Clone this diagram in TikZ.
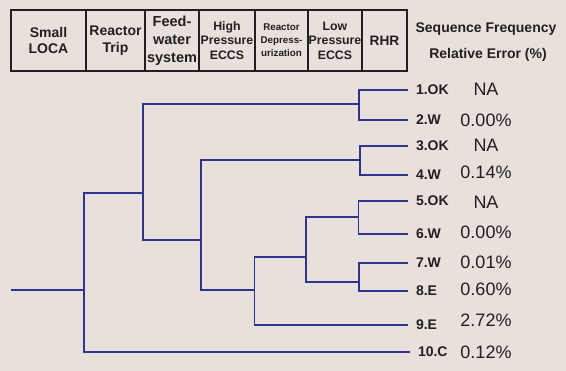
\documentclass[tikz,border=0pt]{standalone}
\usepackage{fontspec}
\setmainfont{Liberation Sans}
\usetikzlibrary{positioning}
\definecolor{bgbeige}{RGB}{232,225,219}
\definecolor{treeblue}{RGB}{48,52,140}
\definecolor{inkgrey}{RGB}{35,31,32}
\tikzstyle{hbox} = [rectangle, draw=inkgrey, line width=1.6pt, minimum height=61pt, inner sep=0pt, outer sep=0pt, align=center, text=inkgrey]
\tikzstyle{seqlabel} = [anchor=west, inner sep=0pt, outer xsep=8pt, text=inkgrey, font=\fontsize{14}{16}\selectfont\bfseries]
\tikzstyle{errval} = [inner sep=0pt, text=inkgrey, font=\fontsize{18}{20}\selectfont]
\tikzstyle{coltitle} = [inner sep=0pt, text=inkgrey, font=\fontsize{14}{16}\selectfont\bfseries]
\tikzstyle{branch} = [draw=treeblue, line width=1.2pt]

\begin{document}
\begin{tikzpicture}[x=1pt, y=-1pt]
      \fill[bgbeige] (0,0) rectangle (566,371);
      \useasboundingbox (0,0) rectangle (566,371);

      % event headings
      \node (loca) [hbox, minimum width=75pt, anchor=north west, font=\fontsize{14}{16.7}\selectfont\bfseries] at (11,10) {Small\\LOCA};
      \node (trip) [hbox, minimum width=59pt, right=0pt of loca, font=\fontsize{14}{16.5}\selectfont\bfseries] {Reactor\\Trip};
      \node (feed) [hbox, minimum width=54pt, right=0pt of trip, font=\fontsize{14.5}{18}\selectfont\bfseries] {Feed-\\water\\system};
      \node (hpeccs) [hbox, minimum width=56pt, right=0pt of feed, font=\fontsize{12.3}{14.5}\selectfont\bfseries] {High\\Pressure\\ECCS};
      \node (depress) [hbox, minimum width=53pt, right=0pt of hpeccs, font=\fontsize{9.8}{13}\selectfont\bfseries] {Reactor\\Depress-\\urization};
      \node (lpeccs) [hbox, minimum width=54pt, right=0pt of depress, font=\fontsize{12.3}{14.5}\selectfont\bfseries] {Low\\Pressure\\ECCS};
      \node (rhr) [hbox, minimum width=45pt, right=0pt of lpeccs, font=\fontsize{13.7}{16}\selectfont\bfseries] {RHR};

      \node (seqfreq) [coltitle] at (486,29) {Sequence Frequency};
      \node (relerr) [coltitle] at (488,55) {Relative Error (\%)};

      % end states
      \node (ok1) [seqlabel] at (408,90) {1.OK};
      \node (w2) [seqlabel] at (408,120) {2.W};
      \node (ok3) [seqlabel] at (408,146) {3.OK};
      \node (w4) [seqlabel] at (408,175) {4.W};
      \node (ok5) [seqlabel] at (408,201) {5.OK};
      \node (w6) [seqlabel] at (408,234) {6.W};
      \node (w7) [seqlabel] at (408,263) {7.W};
      \node (e8) [seqlabel] at (408,291) {8.E};
      \node (e9) [seqlabel] at (408,325) {9.E};
      \node (c10) [seqlabel] at (410,352) {10.C};

      \node (err1) [errval] at (486,89) {NA};
      \node (err2) [errval] at (486,120) {0.00\%};
      \node (err3) [errval] at (486,145) {NA};
      \node (err4) [errval] at (486,172) {0.14\%};
      \node (err5) [errval] at (486,202) {NA};
      \node (err6) [errval] at (486,232) {0.00\%};
      \node (err7) [errval] at (486,262) {0.01\%};
      \node (err8) [errval] at (486,289) {0.60\%};
      \node (err9) [errval] at (486,320) {2.72\%};
      \node (err10) [errval] at (486,352) {0.12\%};

      % branch points
      \coordinate (start) at (11,290);
      \coordinate (j0) at (84,290);
      \coordinate (j1) at (143,193);
      \coordinate (j2) at (359,104);
      \coordinate (j3) at (201,240);
      \coordinate (j4) at (360,160);
      \coordinate (j5) at (254.5,290);
      \coordinate (j6) at (306,257);
      \coordinate (j7) at (358.5,217);
      \coordinate (j8) at (359,282);

      \draw[branch] (start) -- (j0);
      \draw[branch] (j0) |- (j1);
      \draw[branch] (j0) |- (c10);
      \draw[branch] (j1) |- (j2);
      \draw[branch] (j1) |- (j3);
      \draw[branch] (j2) |- (ok1);
      \draw[branch] (j2) |- (w2);
      \draw[branch] (j3) |- (j4);
      \draw[branch] (j3) |- (j5);
      \draw[branch] (j4) |- (ok3);
      \draw[branch] (j4) |- (w4);
      \draw[branch] (j5) |- (j6);
      \draw[branch] (j5) |- (e9);
      \draw[branch] (j6) |- (j7);
      \draw[branch] (j6) |- (j8);
      \draw[branch] (j7) |- (ok5);
      \draw[branch] (j7) |- (w6);
      \draw[branch] (j8) |- (w7);
      \draw[branch] (j8) |- (e8);
\end{tikzpicture}
\end{document}
